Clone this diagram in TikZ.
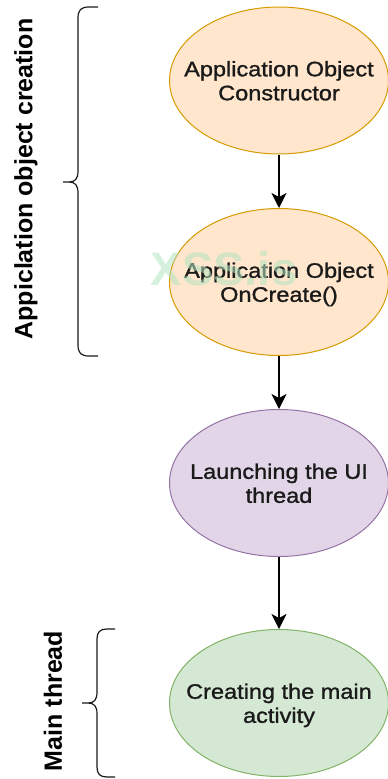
\documentclass[tikz,border=0pt]{standalone}
\usepackage{fontspec}
\setmainfont{Liberation Sans}
\newfontfamily\nodefont[FakeStretch=1.12,FakeBold=1.2]{Liberation Sans}
\usetikzlibrary{shapes.geometric,arrows.meta}

\definecolor{orangefill}{HTML}{FFE6CC}
\definecolor{orangeline}{HTML}{D79B00}
\definecolor{purplefill}{HTML}{E1D5E7}
\definecolor{purpleline}{HTML}{9673A6}
\definecolor{greenfill}{HTML}{D5E8D4}
\definecolor{greenline}{HTML}{82B366}
\definecolor{inkgrey}{HTML}{1A1A1A}
\definecolor{markgreen}{HTML}{B5E3C2}

% two centred lines, set a little low, that do not widen the ellipse around them
\newcommand\twolines[2]{\raisebox{-3pt}[\height][\depth]{\makebox[0pt]{\begin{tabular}{@{}c@{}}#1\\#2\end{tabular}}}}

\tikzset{
  x=1pt, y=1pt,
  stage/.style={ellipse, draw, line width=1pt, minimum width=219pt,
    minimum height=147pt, inner sep=0pt,
    font=\nodefont\fontsize{21}{24}\selectfont, text=inkgrey},
  orangestage/.style={stage, fill=orangefill, draw=orangeline},
  purplestage/.style={stage, fill=purplefill, draw=purpleline},
  greenstage/.style={stage, fill=greenfill, draw=greenline},
  flow/.style={draw=black, line width=1.5pt,
    -{Stealth[length=15pt, width=15pt, inset=4pt]}},
  brace/.style={draw=inkgrey, line width=1.2pt, line join=round},
  sidelabel/.style={rotate=90, font=\bfseries\fontsize{25}{28}\selectfont,
    inner sep=0pt, text=black}
}

\begin{document}
\begin{tikzpicture}
\useasboundingbox (0,0) rectangle (388,-779);

% stages of application start-up
\node[orangestage] (ctor) at (279,-80.5) {\twolines{Application Object}{Constructor}};
\node[orangestage] (oncreate) at (279,-282) {\twolines{Application Object}{OnCreate()}};
\node[purplestage] (uithread) at (279,-483) {\twolines{Launching the UI}{thread}};
\node[greenstage] (mainact) at (279,-703) {\twolines{Creating the main}{activity}};

% watermark
\node[font=\bfseries\fontsize{47}{50}\selectfont, text=markgreen,
  opacity=0.55, inner sep=0pt] (mark) at (224,-269) {XSS.is};

% connectors
\draw[flow] (ctor.south) -- (oncreate.north);
\draw[flow] (oncreate.south) -- (uithread.north);
\draw[flow] (uithread.south) -- (mainact.north);

% brace around the application object phase
\draw[brace] (98,-7) -- (89,-7)
  .. controls (81,-7) and (78,-10) .. (78,-18) -- (78,-171)
  .. controls (78,-179) and (75,-182) .. (69,-182) -- (63,-182)
  (69,-182) .. controls (75,-182) and (78,-185) .. (78,-193) -- (78,-345)
  .. controls (78,-353) and (81,-356) .. (89,-356) -- (98,-356);

% brace around the main thread phase
\draw[brace] (115,-629) -- (107,-629)
  .. controls (100,-629) and (97,-632) .. (97,-639) -- (97,-692)
  .. controls (97,-700) and (94,-703) .. (88,-703) -- (82,-703)
  (88,-703) .. controls (94,-703) and (97,-706) .. (97,-714) -- (97,-767)
  .. controls (97,-774) and (100,-777) .. (107,-777) -- (115,-777);

% side labels
\node[sidelabel] (phase1) at (26,-179) {Appiclation object creation};
\node[sidelabel] (phase2) at (53,-701) {Main thread};
\end{tikzpicture}
\end{document}
